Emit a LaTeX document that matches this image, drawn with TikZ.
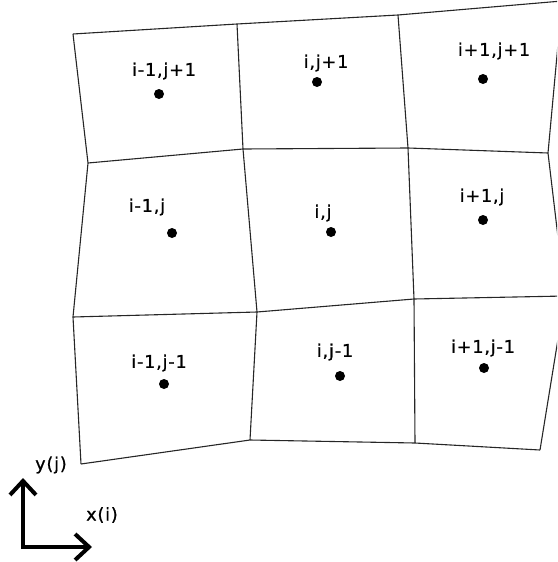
\documentclass[tikz,border=0pt]{standalone}
\usepackage{fontspec}
\setmainfont{DejaVu Sans}[LetterSpace=5,FakeBold=1]
\usetikzlibrary{arrows.meta}
\begin{document}
\begin{tikzpicture}[x=1pt,y=-1pt,
  gridline/.style={draw=black!85,line width=1.1pt,line join=miter},
  celldot/.style={circle,fill=black,inner sep=0pt,minimum size=10pt},
  celllabel/.style={inner sep=0pt,font=\fontsize{17.5}{20}\selectfont},
  axis/.style={line width=4pt,-{Straight Barb[length=14pt,width=26pt,line width=4pt]}}]
\useasboundingbox (0,0) rectangle (557,562);
\begin{scope}
\clip (0,0) rectangle (557,562);
% mesh vertices
\coordinate (a1) at (73,34);  \coordinate (a2) at (237,24);  \coordinate (a3) at (398,15);  \coordinate (a4) at (562,1);
\coordinate (b1) at (88,163); \coordinate (b2) at (243,149); \coordinate (b3) at (408,148); \coordinate (b4) at (548,153);
\coordinate (c1) at (73,317); \coordinate (c2) at (257,312); \coordinate (c3) at (414,299); \coordinate (c4) at (565,296);
\coordinate (d1) at (81,464); \coordinate (d2) at (250,440); \coordinate (d3) at (415,443); \coordinate (d4) at (540,450);
% rows
\draw[gridline] (a1) -- (a2) -- (a3) -- (a4);
\draw[gridline] (b1) -- (b2) -- (b3) -- (b4);
\draw[gridline] (c1) -- (c2) -- (c3) -- (c4);
\draw[gridline] (d1) -- (d2) -- (d3) -- (d4);
% columns
\draw[gridline] (a1) -- (b1) -- (c1) -- (d1);
\draw[gridline] (a2) -- (b2) -- (c2) -- (d2);
\draw[gridline] (a3) -- (b3) -- (c3) -- (d3);
\draw[gridline] (a4) -- (b4) -- (c4) -- (d4);
\end{scope}
% cell centres
\node[celldot] (p11) at (159,94) {};
\node[celldot] (p21) at (317,82) {};
\node[celldot] (p31) at (483,79) {};
\node[celldot] (p12) at (172,233) {};
\node[celldot] (p22) at (331,232) {};
\node[celldot] (p32) at (483,220) {};
\node[celldot] (p13) at (164,384) {};
\node[celldot] (p23) at (340,376) {};
\node[celldot] (p33) at (484,368) {};
% labels
\node[celllabel] (l11) at (164,71) {i-1,j+1};
\node[celllabel] (l21) at (326,63) {i,j+1};
\node[celllabel] (l31) at (494,51) {i+1,j+1};
\node[celllabel] (l12) at (147,207) {i-1,j};
\node[celllabel] (l22) at (323,213) {i,j};
\node[celllabel] (l32) at (482,197) {i+1,j};
\node[celllabel] (l13) at (159,363) {i-1,j-1};
\node[celllabel] (l23) at (335,352) {i,j-1};
\node[celllabel] (l33) at (483,348) {i+1,j-1};
% axes
\coordinate (o) at (23,547);
\coordinate (ytip) at (23,478);
\coordinate (xtip) at (92,547);
\draw[axis] ([yshift=-2pt]o) -- (ytip);
\draw[axis] ([xshift=-2pt]o) -- (xtip);
\node[celllabel] (ylab) at (51,465) {y(j)};
\node[celllabel] (xlab) at (102,515) {x(i)};
\end{tikzpicture}
\end{document}
